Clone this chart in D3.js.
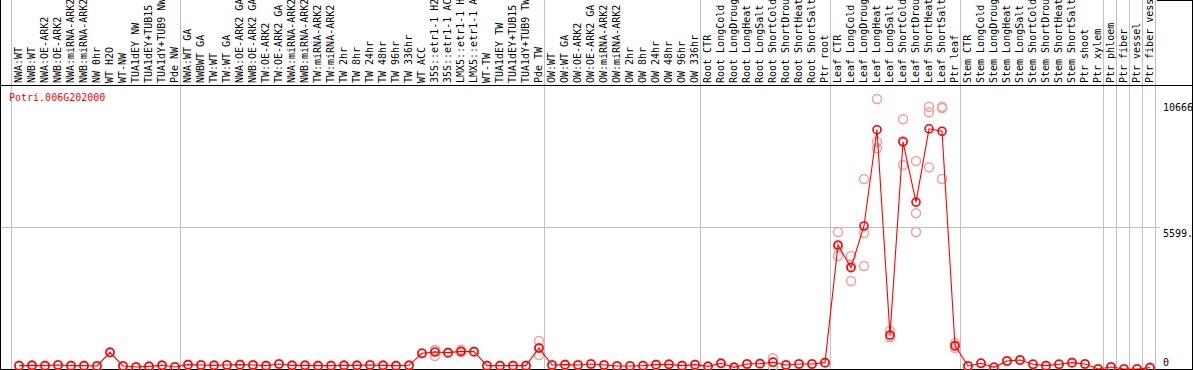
<!DOCTYPE html>
<html>
<head>
<meta charset="utf-8">
<script src="https://cdn.jsdelivr.net/npm/d3@7"></script>
<style>
  html, body { margin: 0; padding: 0; background: #fff; overflow: hidden; }
  svg { display: block; font-family: "DejaVu Sans Mono", monospace; font-size: 10px; }
</style>
</head>
<body>
<div id="chart"></div>
<script>
// sample labels, left to right
const samples = [
  "NWA:WT", "NWB:WT", "NWA:OE-ARK2", "NWB:OE-ARK2", "NWA:miRNA-ARK2", "NWB:miRNA-ARK2",
  "NW 0hr", "WT H2O", "WT-NW", "TUA1dEY NW", "TUA1dEY+TUB15 NW", "TUA1dY+TUB9 NW", "Pde NW",
  "NWA:WT GA", "NWBWT GA", "TW:WT", "TW:WT GA", "NWA:OE-ARK2 GA", "NWB:OE-ARK2 GA",
  "TW:OE-ARK2", "TW:OE-ARK2 GA", "NWA:miRNA-ARK2 GA", "NWB:miRNA-ARK2 GA", "TW:miRNA-ARK2",
  "TW:miRNA-ARK2", "TW 2hr", "TW 8hr", "TW 24hr", "TW 48hr", "TW 96hr", "TW 336hr", "WT ACC",
  "35S::etr1-1 H2O", "35S::etr1-1 ACC", "LMX5::etr1-1 H2O", "LMX5::etr1-1 ACC", "WT-TW",
  "TUA1dEY TW", "TUA1dEY+TUB15 TW", "TUA1dY+TUB9 TW", "Pde TW",
  "OW:WT", "OW:WT GA", "OW:OE-ARK2", "OW:OE-ARK2 GA", "OW:miRNA-ARK2", "OW:miRNA-ARK2",
  "OW 2hr", "OW 8hr", "OW 24hr", "OW 48hr", "OW 96hr", "OW 336hr",
  "Root CTR", "Root LongCold", "Root LongDrought", "Root LongHeat", "Root LongSalt",
  "Root ShortCold", "Root ShortDrought", "Root ShortHeat", "Root ShortSalt", "Ptr root",
  "Leaf CTR", "Leaf LongCold", "Leaf LongDrought", "Leaf LongHeat", "Leaf LongSalt",
  "Leaf ShortCold", "Leaf ShortDrought", "Leaf ShortHeat", "Leaf ShortSalt", "Ptr leaf",
  "Stem CTR", "Stem LongCold", "Stem LongDrought", "Stem LongHeat", "Stem LongSalt",
  "Stem ShortCold", "Stem ShortDrought", "Stem ShortHeat", "Stem ShortSalt", "Ptr shoot",
  "Ptr xylem", "Ptr phloem", "Ptr fiber", "Ptr vessel", "Ptr fiber vessel"
];

// mean expression per sample
const means = [
  132, 145, 132, 158, 132, 132, 119, 658, 119, 79, 105, 145, 79,
  171, 158, 145, 158, 171, 158, 132, 198, 145, 145, 132, 132, 145, 145, 158, 145, 132, 145,
  620, 672, 645, 698, 685, 132, 132, 132, 132, 830,
  158, 171, 158, 198, 158, 119, 119, 132, 171, 184, 132, 171,
  105, 224, 66, 198, 211, 264, 158, 198, 198, 250,
  4898, 4003, 5649, 9454, 1343, 8976, 6593, 9489, 9392, 922,
  119, 225, 67, 316, 356, 186, 132, 186, 250, 198,
  0, 79, 0, 0, 53
];

// replicate values where they spread away from the mean (null = sits on the mean)
const replicates = means.map(() => null);
replicates[32] = [513, 750, 753];
replicates[34] = [760, 667, 667];
replicates[40] = [1106, 553, 830];
replicates[58] = [423, 91, 277];
replicates[63] = [5412, 4819, 4464];
replicates[64] = [4464, 4069, 3476];
replicates[65] = [7505, 5372, 4069];
replicates[66] = [10666, 8978, 8718];
replicates[67] = [1501, 1264, 1264];
replicates[68] = [9863, 9006, 8058];
replicates[69] = [8216, 6150, 5412];
replicates[70] = [10361, 10140, 7967];
replicates[71] = [10361, 10310, 7505];
replicates[72] = [1027, 909, 830];

// index where each sample group starts (gray separators)
const groupStarts = [0, 13, 41, 53, 63, 73, 84, 85, 86, 87, 88];
const yTicks = [0, 5599.5, 10666];
const yTickText = ["0", "5599.5", "10666"];
const geneName = "Potri.006G202000";

const width = 1194, height = 370;
const headerBottom = 85.5, plotBottom = 369.5, rightEdge = 1192.5;

const svg = d3.select("#chart").append("svg")
  .attr("width", width)
  .attr("height", height);

const x = d3.scaleLinear().domain([0, samples.length - 1]).range([19, 1150]);
const y = d3.scaleLinear().domain([0, 10666]).range([369, 99]);

const crisp = v => Math.round(v) + 0.5;

// separators
svg.append("g").selectAll("line")
  .data(groupStarts)
  .join("line")
  .attr("x1", d => crisp(x(d) - 8.5))
  .attr("x2", d => crisp(x(d) - 8.5))
  .attr("y1", 0)
  .attr("y2", plotBottom)
  .attr("stroke", "#c0c0c0")
  .attr("shape-rendering", "crispEdges");

// middle grid line
svg.append("line")
  .attr("x1", 1).attr("x2", 1160)
  .attr("y1", crisp(y(yTicks[1]))).attr("y2", crisp(y(yTicks[1])))
  .attr("stroke", "#c0c0c0")
  .attr("shape-rendering", "crispEdges");

// borders
const border = svg.append("g").attr("stroke", "#000").attr("shape-rendering", "crispEdges");
border.append("line").attr("x1", 0.5).attr("x2", 0.5).attr("y1", 0).attr("y2", height);
border.append("line").attr("x1", rightEdge).attr("x2", rightEdge).attr("y1", 0).attr("y2", height);
border.append("line").attr("x1", 0).attr("x2", rightEdge).attr("y1", headerBottom).attr("y2", headerBottom);
border.append("line").attr("x1", 0).attr("x2", rightEdge).attr("y1", plotBottom).attr("y2", plotBottom);
border.append("line").attr("x1", 1157).attr("x2", rightEdge).attr("y1", 0.5).attr("y2", 0.5);

// sample labels in header (long ones run off the top, as in the original)
svg.append("g").selectAll("text")
  .data(samples)
  .join("text")
  .attr("transform", (d, i) => `translate(${x(i) + 3},83) rotate(-90)`)
  .attr("fill", "#000")
  .text(d => d);

// y labels on the right, clipped at the border
svg.append("clipPath").attr("id", "rclip")
  .append("rect").attr("x", 1156).attr("y", 86).attr("width", rightEdge - 1156).attr("height", 283);
const yl = svg.append("g").attr("clip-path", "url(#rclip)");
yl.append("text").attr("x", 1163).attr("y", y(yTicks[2]) + 12).text(yTickText[2]);
yl.append("text").attr("x", 1163).attr("y", y(yTicks[1]) + 10).text(yTickText[1]);
yl.append("text").attr("x", 1163).attr("y", y(yTicks[0]) - 3).text(yTickText[0]);

// gene name
svg.append("text")
  .attr("x", 9).attr("y", 101)
  .attr("fill", "#ff0000")
  .text(geneName);

// replicate points
const repPoints = [];
means.forEach((m, i) => {
  (replicates[i] || [m]).forEach(v => repPoints.push({ i, v }));
});
svg.append("g").selectAll("circle")
  .data(repPoints)
  .join("circle")
  .attr("cx", d => x(d.i))
  .attr("cy", d => y(d.v))
  .attr("r", 4.5)
  .attr("fill", "none")
  .attr("stroke", "#f0a0a0")
  .attr("stroke-width", 1.5);

// mean line
const line = d3.line().x((d, i) => x(i)).y(d => y(d));
svg.append("path")
  .datum(means)
  .attr("d", line)
  .attr("fill", "none")
  .attr("stroke", "#ff0000")
  .attr("stroke-width", 1.1);

// mean points
svg.append("g").selectAll("circle")
  .data(means)
  .join("circle")
  .attr("cx", (d, i) => x(i))
  .attr("cy", d => y(d))
  .attr("r", 4)
  .attr("fill", "none")
  .attr("stroke", "#ff0000")
  .attr("stroke-width", 1.6);
</script>
</body>
</html>
